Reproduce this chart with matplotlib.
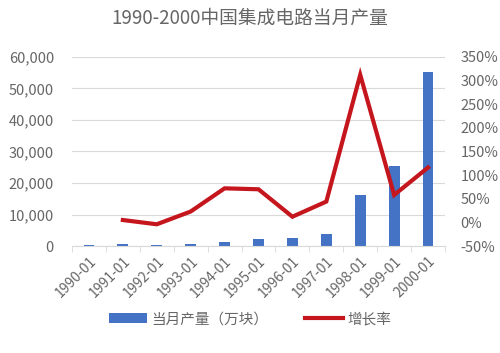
import numpy as np
import matplotlib
matplotlib.use("Agg")
import matplotlib.pyplot as plt
from matplotlib.ticker import FuncFormatter, FixedLocator

plt.rcParams['font.family'] = ['Noto Sans CJK SC', 'DejaVu Sans']

# data
months = ['1990-01', '1991-01', '1992-01', '1993-01', '1994-01', '1995-01',
          '1996-01', '1997-01', '1998-01', '1999-01', '2000-01']
output = [400, 600, 400, 600, 1400, 2200, 2500, 3700, 16200, 25400, 55100]
growth_months = months[1:]
growth = [5, -4, 23, 72, 70, 12, 44, 312, 58, 116]

BAR_C = '#4472C4'
LINE_C = '#C5161D'
TXT_C = '#666666'
GRID_C = '#D9D9D9'

fig = plt.figure(figsize=(5, 3.53), dpi=100)
ax = fig.add_axes([0.144, 0.303, 0.746, 0.536])
x = np.arange(len(months))
ax.bar(x, output, width=0.32, color=BAR_C, zorder=2, label='当月产量（万块）')
ax.set_ylim(0, 60000)
ax.set_yticks(np.arange(0, 60001, 10000))
ax.yaxis.set_major_formatter(FuncFormatter(lambda v, p: '{:,.0f}'.format(v)))
ax.grid(axis='y', color=GRID_C, lw=0.8, zorder=0)
ax.set_xlim(-0.5, len(months) - 0.5)
ax.set_xticks(x)
ax.set_xticklabels(months, rotation=45, ha='right', rotation_mode='anchor')
ax.xaxis.set_minor_locator(FixedLocator(np.arange(-0.5, len(months), 1)))
ax.tick_params(axis='x', which='major', length=0, labelsize=10, colors=TXT_C, pad=6)
ax.tick_params(axis='x', which='minor', length=4, color=GRID_C)
ax.tick_params(axis='y', length=0, labelsize=10.5, colors=TXT_C, pad=13)
for s in ['top', 'right', 'left']:
    ax.spines[s].set_visible(False)
ax.spines['bottom'].set_color(GRID_C)

ax2 = ax.twinx()
gx = [months.index(m) for m in growth_months]
ax2.plot(gx, growth, color=LINE_C, lw=3, zorder=3, solid_joinstyle='miter',
         label='增长率')
ax2.set_ylim(-50, 350)
ax2.set_yticks(np.arange(-50, 351, 50))
ax2.yaxis.set_major_formatter(FuncFormatter(lambda v, p: '{:.0f}%'.format(v)))
ax2.tick_params(axis='y', length=0, labelsize=10.5, colors=TXT_C, pad=11)
for s in ax2.spines.values():
    s.set_visible(False)

fig.text(0.5, 0.948, '1990-2000中国集成电路当月产量', ha='center', va='center',
         fontsize=13.5, color=TXT_C)

h1, l1 = ax.get_legend_handles_labels()
h2, l2 = ax2.get_legend_handles_labels()
fig.legend(h1 + h2, l1 + l2, loc='center', bbox_to_anchor=(0.5, 0.095), ncol=2,
           frameon=False, fontsize=10.5, labelcolor=TXT_C, handlelength=2.6,
           handletextpad=0.3, columnspacing=2.5)

fig.savefig('out.png', dpi=100)
